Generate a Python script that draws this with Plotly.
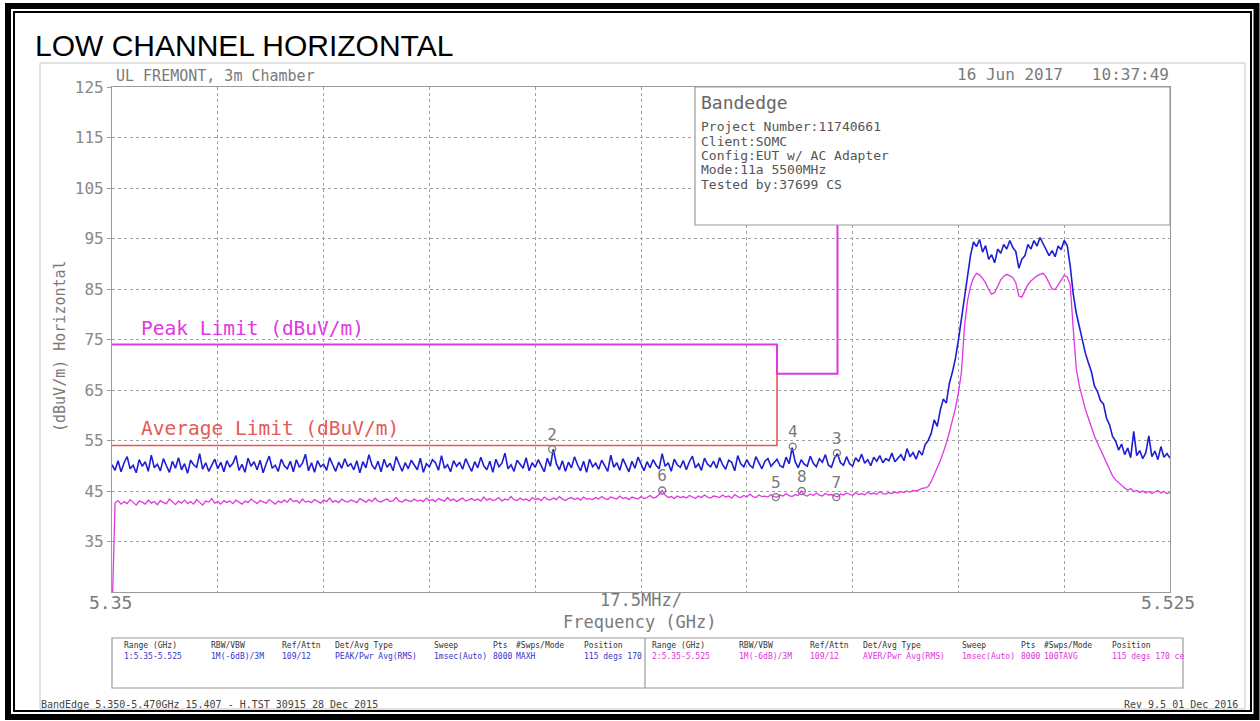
import plotly.graph_objects as go

# ---------------- data ----------------
F0 = 5.35          # GHz, first trace point
DF = 0.0005        # GHz, trace point spacing

peak_trace = [
    50.2, 49.1, 51.0, 48.8, 50.6, 51.8, 49.4, 50.1, 48.6, 51.2, 49.9, 50.8, 48.9, 52.1, 49.6, 50.3, 49.0, 51.4, 50.0, 48.7,
    50.9, 49.5, 51.6, 49.2, 50.4, 48.5, 51.1, 50.2, 49.7, 52.4, 49.3, 50.6, 48.9, 50.0, 51.3, 49.4, 50.7, 48.8, 51.0, 49.8,
    50.5, 52.0, 49.1, 50.3, 48.7, 51.5, 49.9, 50.8, 49.2, 51.1, 48.6, 50.4, 51.9, 49.5, 50.1, 48.9, 51.3, 50.0, 49.4, 50.9,
    48.8, 51.2, 49.7, 50.5, 52.3, 49.0, 50.6, 48.7, 51.0, 49.8, 50.3, 49.1, 51.6, 50.2, 48.9, 50.7, 49.5, 51.4, 49.9, 50.4,
    49.2, 51.0, 48.6, 50.8, 49.6, 52.2, 50.1, 49.3, 50.9, 48.8, 51.3, 49.7, 50.5, 49.0, 51.8, 50.3, 48.9, 50.6, 49.4, 51.1,
    50.0, 49.2, 51.5, 48.7, 50.4, 49.8, 51.2, 50.6, 49.1, 52.0, 49.5, 50.2, 48.8, 51.0, 49.9, 50.7, 49.3, 51.4, 50.1, 48.9,
    50.8, 49.6, 51.7, 50.0, 49.2, 50.9, 48.7, 51.3, 49.8, 50.5, 52.5, 49.4, 50.2, 48.9, 51.1, 50.3, 49.5, 51.6, 49.0, 50.6,
    49.7, 51.2, 50.1, 48.8, 51.5, 49.9, 53.3, 50.4, 49.2, 51.0, 48.9, 50.7, 49.6, 51.8, 50.2, 49.0, 50.9, 48.7, 51.3, 49.8,
    50.5, 49.3, 51.1, 50.0, 48.9, 52.1, 49.7, 50.6, 49.1, 51.4, 50.2, 48.8, 50.9, 49.5, 51.7, 50.3, 49.0, 50.8, 49.6, 51.2,
    50.1, 49.4, 52.4, 49.9, 50.6, 48.9, 51.3, 50.2, 49.7, 51.0, 49.2, 50.8, 51.9, 49.6, 50.4, 49.1, 51.5, 50.3, 49.8, 50.9,
    49.5, 51.6, 50.2, 49.3, 51.1, 50.7, 49.0, 52.0, 50.4, 49.8, 51.2, 50.1, 49.6, 51.8, 50.5, 49.4, 50.9, 51.4, 49.9, 50.6,
    51.3, 50.0, 49.7, 51.7, 50.4, 53.6, 50.8, 49.6, 51.2, 50.3, 49.9, 51.9, 50.5, 49.8, 51.4, 50.7, 52.2, 50.1, 49.7, 51.5,
    52.4, 50.6, 50.1, 51.8, 50.4, 49.9, 51.6, 50.8, 52.3, 50.5, 51.2, 50.0, 51.7, 50.9, 52.0, 50.6, 51.4, 51.0, 52.5, 50.8,
    51.6, 52.2, 51.0, 53.4, 51.8, 52.6, 51.3, 53.0, 52.1, 54.2, 55.0, 56.4, 59.1, 57.8, 61.0, 63.2, 62.4, 66.3, 68.5, 71.2,
    74.9, 79.0, 83.4, 88.2, 91.6, 94.3, 93.4, 94.8, 92.3, 93.6, 90.9, 91.8, 90.2, 92.9, 92.1, 93.8, 92.9, 94.6, 93.2, 92.4,
    89.1, 90.9, 91.6, 93.8, 92.9, 94.6, 93.5, 95.2, 94.1, 93.0, 91.6, 92.6, 91.4, 93.5, 92.8, 94.6, 93.6, 89.5, 84.0, 80.2,
    77.4, 75.0, 72.3, 70.4, 68.6, 65.8, 64.7, 62.9, 62.2, 59.4, 58.1, 55.8, 54.9, 53.1, 54.3, 52.2, 53.5, 51.6, 56.8, 52.0,
    53.0, 51.4, 52.6, 55.9, 51.8, 52.9, 51.2, 53.8, 51.7, 52.4, 51.5,
]

avg_trace = [
    20.0, 42.6, 43.1, 42.4, 42.9, 42.5, 43.3, 42.7, 42.2, 43.0, 42.8, 42.4, 43.2, 42.6, 42.9, 42.3, 43.1, 42.7, 42.5, 43.4,
    42.8, 42.3, 43.0, 42.6, 43.2, 42.5, 42.9, 42.4, 43.3, 42.7, 42.2, 43.0, 42.8, 43.5, 42.6, 42.9, 42.4, 43.1, 42.7, 43.0,
    42.5, 43.2, 42.8, 42.4, 43.0, 42.7, 43.4, 42.9, 42.5, 43.1, 42.8, 42.6, 43.3, 42.9, 42.4, 43.0, 42.7, 43.2, 42.8, 43.5,
    42.9, 43.1, 42.6, 43.4, 42.8, 43.0, 42.7, 43.3, 43.0, 42.6, 43.2, 42.9, 43.6, 42.8, 43.1, 42.7, 43.4, 43.0, 42.8, 43.2,
    43.0, 42.7, 43.5, 43.1, 42.8, 43.3, 42.9, 43.6, 43.0, 42.8, 43.2, 43.4, 42.9, 43.1, 43.7, 43.0, 42.8, 43.3, 43.1, 42.9,
    43.4, 43.0, 43.2, 42.9, 43.6, 43.1, 43.3, 42.9, 43.5, 43.2, 43.0, 43.7, 43.1, 43.4, 42.9, 43.3, 43.6, 43.0, 43.2, 43.5,
    43.1, 43.4, 43.0, 43.8, 43.2, 43.5, 43.1, 43.3, 43.7, 43.0, 43.4, 43.2, 43.9, 43.3, 43.1, 43.6, 43.2, 43.4, 43.0, 43.7,
    43.3, 43.5, 43.1, 43.8, 43.4, 43.2, 43.6, 43.3, 43.9, 43.4, 43.1, 43.5, 43.7, 43.3, 43.6, 43.2, 43.8, 43.4, 43.5, 43.3,
    43.7, 43.4, 43.9, 43.5, 43.3, 43.8, 43.6, 43.4, 44.0, 43.5, 43.7, 43.3, 43.8, 43.6, 43.4, 43.9, 43.5, 43.7, 44.1, 43.6,
    43.8, 44.3, 45.1, 44.2, 43.7, 43.9, 43.5, 44.0, 43.7, 43.9, 43.6, 44.1, 43.8, 43.5, 44.0, 43.7, 44.2, 43.8, 43.6, 44.0,
    43.9, 43.7, 44.2, 43.8, 44.0, 43.6, 44.3, 43.9, 43.7, 44.1, 43.8, 44.4, 43.9, 43.7, 44.2, 43.9, 44.0, 43.8, 44.3, 43.9,
    43.8, 44.2, 44.0, 44.5, 44.1, 43.9, 44.3, 44.1, 45.0, 44.2, 44.0, 44.4, 44.1, 44.6, 44.2, 44.0, 44.5, 44.2, 44.3, 44.1,
    43.8, 44.4, 44.2, 44.6, 44.3, 44.1, 44.7, 44.3, 44.5, 44.2, 44.8, 44.4, 44.6, 44.3, 44.9, 44.5, 44.4, 44.7, 44.5, 44.8,
    44.6, 44.9, 44.7, 45.0, 44.8, 45.1, 45.0, 45.3, 45.5, 45.6, 45.9, 46.9, 48.2, 49.4, 51.0, 52.7, 54.4, 56.6, 58.8, 61.3,
    64.5, 68.5, 77.5, 82.6, 85.5, 87.2, 88.1, 87.8, 87.1, 86.2, 84.9, 84.0, 84.3, 85.6, 86.8, 87.5, 87.9, 87.6, 87.3, 86.2,
    83.6, 83.4, 84.7, 85.9, 86.6, 87.2, 87.6, 87.9, 88.1, 87.4, 86.1, 85.0, 84.9, 85.8, 86.9, 87.7, 87.4, 85.8, 77.0, 69.2,
    65.8, 63.4, 61.2, 59.4, 57.5, 55.9, 54.5, 53.2, 51.8, 50.3, 49.1, 48.0, 47.2, 46.6, 46.0, 45.6, 45.2, 45.5, 44.9, 45.1,
    44.7, 45.0, 44.6, 44.9, 44.5, 44.8, 45.1, 44.6, 44.9, 44.5, 44.7,
]

peak_limit_freq = [5.35, 5.46, 5.46, 5.47, 5.47]
peak_limit_level = [74.0, 74.0, 68.2, 68.2, 98.0]
avg_limit_freq = [5.35, 5.46, 5.46]
avg_limit_level = [54.0, 54.0, 74.0]

marker_labels = ["2", "4", "3", "6", "5", "8", "7"]
marker_freq = [5.4228, 5.4626, 5.4699, 5.4410, 5.4598, 5.4641, 5.4698]
marker_level = [53.3, 53.8, 52.5, 45.1, 43.8, 45.0, 43.8]

y_ticks = [35, 45, 55, 65, 75, 85, 95, 105, 115, 125]

info_title = "Bandedge"
info_lines = ["Project Number:11740661", "Client:SOMC", "Config:EUT w/ AC Adapter",
              "Mode:11a 5500MHz", "Tested by:37699 CS"]

table_headers = ["Range (GHz)", "RBW/VBW", "Ref/Attn", "Det/Avg Type", "Sweep", "Pts", "#Swps/Mode", "Position"]
table_trace1 = ["1:5.35-5.525", "1M(-6dB)/3M", "109/12", "PEAK/Pwr Avg(RMS)", "1msec(Auto)", "8000", "MAXH", "115 degs 170"]
table_trace2 = ["2:5.35-5.525", "1M(-6dB)/3M", "109/12", "AVER/Pwr Avg(RMS)", "1msec(Auto)", "8000", "100TAVG", "115 degs 170 ce"]

# ---------------- layout helpers ----------------
W, H = 1260, 721
PL, PR, PT, PB = 112, 1170, 87, 592
MONO = "DejaVu Sans Mono"
GRAY = "#7a7a7a"
BLUE = "#1e1ed4"
PINK = "#e038e0"
RED = "#e45a55"


def X(px):
    return (px - PL) / (PR - PL)


def Y(py):
    return (PB - py) / (PB - PT)


fig = go.Figure()

fig.add_trace(go.Scatter(x0=F0, dx=DF, y=peak_trace, mode="lines",
                         line=dict(color=BLUE, width=1.6), hoverinfo="skip"))
fig.add_trace(go.Scatter(x0=F0, dx=DF, y=avg_trace, mode="lines",
                         line=dict(color=PINK, width=1.3), hoverinfo="skip"))
fig.add_trace(go.Scatter(x=avg_limit_freq, y=avg_limit_level, mode="lines",
                         line=dict(color=RED, width=1.6), hoverinfo="skip"))
fig.add_trace(go.Scatter(x=peak_limit_freq, y=peak_limit_level, mode="lines",
                         line=dict(color=PINK, width=2), hoverinfo="skip"))
fig.add_trace(go.Scatter(x=marker_freq, y=marker_level, mode="markers+text",
                         text=marker_labels, textposition="top center",
                         textfont=dict(family=MONO, size=16, color=GRAY),
                         marker=dict(symbol="circle-open", size=7, color=GRAY, line=dict(width=1.3)),
                         hoverinfo="skip"))

shapes = []
# outer frames
shapes.append(dict(type="rect", xref="paper", yref="paper", x0=X(8), x1=X(1256.5), y0=Y(6), y1=Y(717),
                   line=dict(color="black", width=6), layer="above"))
shapes.append(dict(type="rect", xref="paper", yref="paper", x0=X(14), x1=X(1251), y0=Y(12), y1=Y(711),
                   line=dict(color="black", width=2), layer="above"))
shapes.append(dict(type="rect", xref="paper", yref="paper", x0=X(40), x1=X(1245), y0=Y(63), y1=Y(709),
                   line=dict(color="#c4c4c4", width=1), layer="below"))
# info box
shapes.append(dict(type="rect", xref="paper", yref="paper", x0=X(695), x1=X(1170), y0=Y(87), y1=Y(225),
                   line=dict(color="#9a9a9a", width=1.2), fillcolor="white", layer="above"))
# bottom table
shapes.append(dict(type="rect", xref="paper", yref="paper", x0=X(112), x1=X(1183), y0=Y(638), y1=Y(688),
                   line=dict(color="#9a9a9a", width=1.2), layer="above"))
shapes.append(dict(type="line", xref="paper", yref="paper", x0=X(645), x1=X(645), y0=Y(638), y1=Y(688),
                   line=dict(color="#9a9a9a", width=1.2), layer="above"))

ann = []


def text(s, px, py, size, color=GRAY, family=MONO, xanchor="left", angle=0):
    ann.append(dict(text=s, x=X(px), y=Y(py), xref="paper", yref="paper", showarrow=False,
                    xanchor=xanchor, yanchor="middle", textangle=angle,
                    font=dict(family=family, size=size, color=color)))


text("LOW CHANNEL HORIZONTAL", 33, 46, 30, color="black", family="Liberation Sans")
text("UL FREMONT, 3m Chamber", 114, 76, 15)
text("16 Jun 2017   10:37:49", 1171, 75, 16, xanchor="right")
text(info_title, 699, 102, 18, color="#666666")
for k, line in enumerate(info_lines):
    text(line, 699, 127 + 14.3 * k, 13, color="#555555")
text("Peak Limit (dBuV/m)", 139, 328, 19.5, color=PINK)
text("Average Limit (dBuV/m)", 139, 429, 19.5, color=RED)
text("5.35", 110, 602, 18, xanchor="center")
text("17.5MHz/", 641, 600, 17, xanchor="center")
text("5.525", 1168, 602, 18, xanchor="center")
text("Frequency (GHz)", 640, 622, 17, xanchor="center")
text("(dBuV/m) Horizontal", 60, 346, 15, xanchor="center", angle=-90)

col_offsets = [0, 87, 158, 211, 310, 369, 392, 460]
for base, values, vcolor in [(122, table_trace1, "#3434cc"), (650, table_trace2, "#dd33dd")]:
    for off, h, v in zip(col_offsets, table_headers, values):
        text(h, base + off, 645, 8, color="#333333")
        text(v, base + off, 656, 8, color=vcolor)

text("BandEdge 5.350-5.470GHz 15.407 - H.TST 30915 28 Dec 2015", 39, 704, 10, color="#444444")
text("Rev 9.5 01 Dec 2016", 1240, 704, 10, color="#444444", xanchor="right")

fig.update_layout(
    width=W, height=H,
    margin=dict(l=PL, r=W - PR, t=PT, b=H - PB),
    paper_bgcolor="white", plot_bgcolor="white",
    showlegend=False,
    shapes=shapes, annotations=ann,
    xaxis=dict(range=[5.35, 5.525], tick0=5.35, dtick=0.0175, showticklabels=False, ticks="",
               showgrid=True, gridcolor="#a0a0a0", griddash="dot", gridwidth=1,
               showline=True, linecolor="#9a9a9a", linewidth=1.2, mirror=True, zeroline=False),
    yaxis=dict(range=[25, 125], tickvals=y_ticks, ticks="outside", ticklen=4, tickcolor="#9a9a9a",
               tickfont=dict(family=MONO, size=16, color="#888888"),
               showgrid=True, gridcolor="#a0a0a0", griddash="dot", gridwidth=1,
               showline=True, linecolor="#9a9a9a", linewidth=1.2, mirror=True, zeroline=False),
)

fig.write_html("out.html", config={"displayModeBar": False},
               post_script="document.body.style.margin='0';document.body.style.overflow='hidden';")
